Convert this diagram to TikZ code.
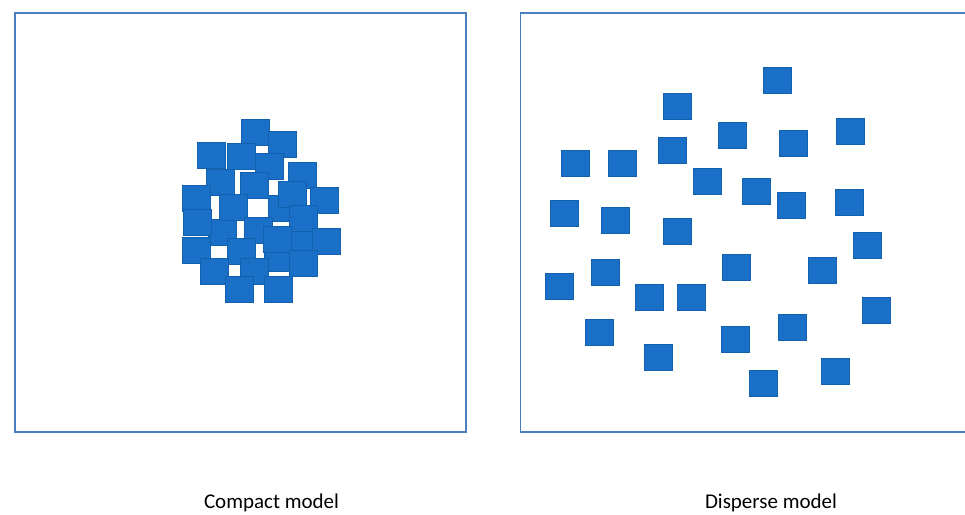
\documentclass[tikz,border=0pt]{standalone}
\usepackage{fontspec}
\setmainfont{Carlito}
\definecolor{frameblue}{HTML}{4A7EBF}
\definecolor{sqfill}{HTML}{1A70C6}
\definecolor{sqline}{HTML}{1260AE}
\begin{document}
\begin{tikzpicture}[x=1pt,y=-1pt,
  sq/.style={draw=sqline,fill=sqfill,line width=0.8pt,minimum width=28pt,minimum height=26pt,inner sep=0pt,outer sep=0pt},
  frm/.style={draw=frameblue,line width=1.6pt},
  lbl/.style={font=\fontsize{21}{24}\selectfont,anchor=base,inner sep=0pt}]
\useasboundingbox (0,0) rectangle (965,514);
\fill[white] (0,0) rectangle (965,514);
% frames
\node[frm,minimum width=451pt,minimum height=419pt,inner sep=0pt,anchor=north west] (leftframe) at (14,12) {};
\begin{scope}
\clip (0,0) rectangle (965,514);
\node[frm,minimum width=460pt,minimum height=419pt,inner sep=0pt,anchor=north west] (rightframe) at (519.5,12) {};
\end{scope}
% compact model
\foreach \n/\x/\y in {
 c13/282/208, c16/222/232, c23/278/258, c19/302/240,
 c1/255/132, c2/282/144, c3/211/155, c4/241/156, c5/269/166,
 c7/220/182, c8/254/185, c6/302/175, c9/196/198, c10/292/194,
 c11/324/200, c12/233/207, c15/303/218, c14/197/222, c17/258/230,
 c18/277/239, c20/326/241, c21/196/250, c22/241/251, c24/303/263,
 c25/214/271, c26/254/271, c27/239/289, c28/278/289}
 \node[sq] (\n) at (\x,\y) {};
% disperse model
\foreach \n/\x/\y in {
 d1/777/80, d2/677/106, d3/732/135, d4/850/131, d5/672/150,
 d6/793/143, d7/575/163, d8/622/163, d9/707/181, d10/756/191,
 d11/564/213, d12/615/220, d13/791/205, d14/849/202, d15/677/231,
 d16/867/245, d17/736/267, d18/822/270, d19/559/286, d20/605/272,
 d21/649/297, d22/691/297, d23/876/310, d24/599/332, d25/735/339,
 d26/792/327, d27/658/357, d28/835/371, d29/763/383}
 \node[sq] (\n) at (\x,\y) {};
% labels
\node[lbl] (compact) at (271.5,508) {Compact model};
\node[lbl] (disperse) at (771,508) {Disperse model};
\end{tikzpicture}
\end{document}
